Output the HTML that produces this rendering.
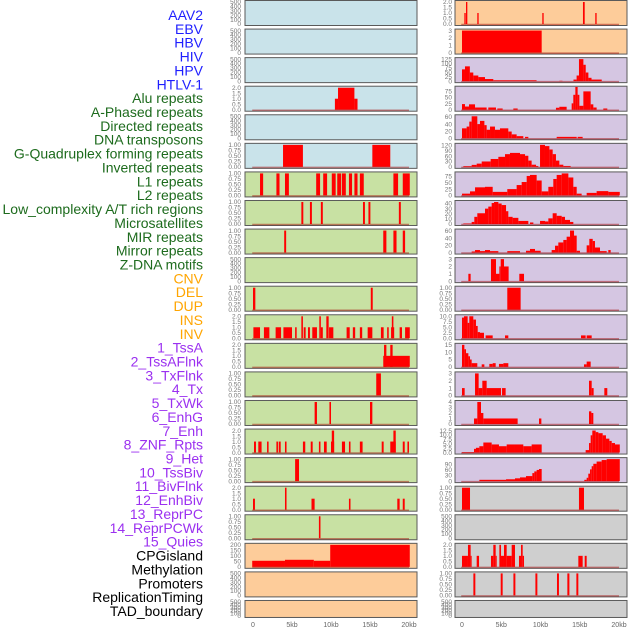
<!DOCTYPE html>
<html><head><meta charset="utf-8"><style>
html,body{margin:0;padding:0;background:#fff;}
svg{display:block;font-family:"Liberation Sans",sans-serif;}
</style></head><body>
<svg id="chart" width="630" height="630" viewBox="0 0 630 630"></svg>
<script>
const labels = ["AAV2","EBV","HBV","HIV","HPV","HTLV-1","Alu repeats","A-Phased repeats","Directed repeats","DNA transposons","G-Quadruplex forming repeats","Inverted repeats","L1 repeats","L2 repeats","Low_complexity A/T rich regions","Microsatellites","MIR repeats","Mirror repeats","Z-DNA motifs","CNV","DEL","DUP","INS","INV","1_TssA","2_TssAFlnk","3_TxFlnk","4_Tx","5_TxWk","6_EnhG","7_Enh","8_ZNF_Rpts","9_Het","10_TssBiv","11_BivFlnk","12_EnhBiv","13_ReprPC","14_ReprPCWk","15_Quies","CPGisland","Methylation","Promoters","ReplicationTiming","TAD_boundary"];
const labelGroups = [6,13,5,15,5];
const groupColors = ["#1f1fff","#1d6b1d","#ffa500","#9b30f0","#000000"];
const xTicks = [0,5,10,15,20];
const xTickLabels = ["0","5kb","10kb","15kb","20kb"];

// middle column panels: segments [startKb, endKb, value]
const m1=[],m2=[],m3=[],m5=[],m10=[],m21=[],m22=[];
const m4=[[10.5,10.9,1],[10.9,13.0,2],[13.0,13.4,1]];
const m6=[[3.85,6.4,1],[15.3,17.6,1]];
const m7=[[0.9,1.3,1],[3.0,3.4,1],[4.1,4.6,1],[8.1,8.6,1],[9.0,9.5,1],[10.1,10.6,1],[10.8,11.3,1],[11.4,11.9,1],[12.3,12.7,1],[13.0,13.4,1],[13.7,14.2,1],[18.0,18.6,1],[19.2,20.1,1]];
const m8=[[6.2,6.45,1],[7.3,7.55,1],[8.7,8.95,1],[14.1,14.35,1],[14.8,15.05,1],[18.7,18.95,1]];
const m9=[[4.0,4.25,1],[16.7,17.1,1],[18.0,18.4,1],[19.2,19.5,1]];
const m11=[[0.0,0.3,1],[15.1,15.35,1]];
const m12=[[0.05,0.9,1],[1.4,2.1,1],[2.9,3.6,1],[3.9,5.0,1],[5.4,5.6,1],[6.2,6.4,2],[6.5,6.75,1],[7.05,7.3,1],[7.6,8.2,1],[8.5,8.7,2],[8.7,8.95,1],[9.4,9.7,2],[9.75,10.3,1],[12.0,12.4,1],[12.8,13.1,1],[13.7,14.0,1],[14.7,15.3,1],[16.4,16.75,1],[17.2,17.4,1],[17.7,18.1,1],[17.8,18.0,2],[18.8,19.1,1],[19.5,20.1,1]];
const m13=[[16.7,20.1,1],[16.8,17.1,2],[17.6,17.9,2]];
const m14=[[15.8,16.4,1]];
const m15=[[7.9,8.2,1],[9.8,10.0,1],[15.0,15.3,1]];
const m16=[[0.13,0.38,1],[0.68,1.1,1],[1.8,2.0,1],[3.0,3.2,1],[3.3,3.55,1],[4.1,4.3,1],[6.4,6.7,1],[7.4,7.65,1],[8.45,8.65,1],[9.1,9.45,1],[10.0,10.4,1],[10.1,10.4,2],[11.4,11.8,1],[12.3,12.5,1],[13.7,14.05,1],[16.5,16.75,1],[17.6,18.3,1],[18.0,18.3,2],[19.2,19.45,1],[19.8,20.0,1]];
const m17=[[5.4,5.9,1]];
const m18=[[0,0.25,1],[4.1,4.3,2],[7.5,7.9,1],[12.3,12.5,1],[18.5,18.8,1],[19.2,19.45,1]];
const m19=[[8.45,8.65,1]];
const m20=[[-0.1,4.1,55],[4.1,7.8,64],[7.8,9.9,55],[9.9,20.1,200]];

// right column panels
const r1=[[0.3,0.47,1],[0.51,0.68,2],[1.95,2.12,1],[10.23,10.4,1],[15.41,15.63,2],[16.98,17.15,1]];
const r2=[[0,10.15,3]];
const r3=[[0,0.38,67],[0.38,1.0,84],[1.0,1.44,49],[1.44,2.08,32],[2.08,2.93,23],[2.93,3.99,12],[3.99,4.84,5],[4.84,9.5,5],[12.4,12.8,2],[14.2,14.6,9],[14.6,14.9,32],[14.9,15.46,125],[15.46,15.76,93],[15.76,16.1,49],[16.1,16.5,19],[16.5,17.8,9]];
const r4=[[0,0.38,23],[0.38,0.89,13],[0.89,1.66,22],[1.66,3.14,9],[3.35,4.33,9],[4.5,5.18,5],[6.54,7.09,5],[11.97,12.4,8],[12.4,13.33,12],[13.97,14.18,26],[14.18,14.44,61],[14.44,14.73,93],[14.73,14.95,61],[14.95,15.46,16],[15.46,16.39,75],[16.39,16.73,22],[16.73,17.15,9],[18.0,18.51,5]];
const r5=[[0,0.59,28],[0.59,0.93,33],[0.93,1.23,47],[1.23,1.95,62],[1.95,2.29,40],[2.29,2.85,49],[2.85,3.14,37],[3.14,3.57,24],[3.57,4.2,33],[4.2,4.84,24],[4.84,5.9,28],[5.9,6.33,19],[6.33,6.96,11],[6.96,7.81,6],[8.03,8.45,4],[12.06,14.61,4],[14.73,15.37,4]];
const r6=[[0.17,1.23,4],[1.23,1.87,11],[1.87,2.51,18],[2.51,3.65,30],[3.65,4.63,44],[4.63,5.48,56],[5.48,6.11,71],[6.11,7.39,78],[7.39,8.03,71],[8.03,8.45,62],[8.45,8.87,35],[8.87,9.43,12],[9.43,9.72,5],[9.94,10.57,123],[10.57,11.13,116],[11.13,11.55,97],[11.55,11.97,71],[11.97,12.4,35],[12.4,12.91,12],[12.91,13.84,5]];
const r7=[[0,1.02,7],[1.02,1.66,16],[1.66,2.93,32],[2.93,3.91,34],[3.91,5.77,14],[5.77,6.96,25],[6.96,7.6,41],[7.6,8.24,53],[8.24,8.66,77],[8.66,9.51,81],[9.51,10.15,59],[10.15,11.0,16],[11.0,11.63,34],[11.63,12.06,65],[12.06,12.7,81],[12.7,13.55,87],[13.55,14.18,71],[14.18,14.61,34],[14.61,15.24,7],[15.88,17.15,10],[17.15,18.64,17],[18.64,20.1,14]];
const r8=[[0.17,1.23,1],[1.23,1.57,4],[1.57,1.95,14],[1.95,2.93,21],[2.93,3.35,30],[3.35,3.78,34],[3.78,4.08,41],[4.08,4.63,43],[4.63,5.05,40],[5.05,5.61,37],[5.61,5.9,25],[5.9,6.45,14],[6.45,7.18,12],[7.18,8.45,6],[8.66,9.09,3],[9.94,10.57,6],[10.57,11.0,5],[11.0,11.55,11],[11.55,12.06,21],[12.06,12.7,16],[12.7,13.12,14],[13.12,13.76,8],[13.76,14.18,4]];
const r9=[[1.23,1.66,3],[1.66,2.29,7],[2.29,2.93,4],[2.93,3.57,7],[3.57,4.63,4],[5.77,7.39,4],[8.15,8.66,5],[8.66,9.3,10],[9.3,10.02,5],[11.42,11.85,7],[11.85,12.27,19],[12.27,12.91,28],[12.91,13.33,35],[13.33,13.76,44],[13.76,14.27,61],[14.27,14.61,47],[14.61,15.03,5],[15.88,16.22,20],[16.22,16.65,38],[16.65,16.94,32],[16.94,17.58,14],[17.58,18.43,4],[18.64,18.94,7]];
const r10=[[0.81,1.1,1],[3.69,4.33,3],[4.33,4.76,1],[4.76,4.93,2],[4.93,5.35,3],[5.35,5.94,2],[7.3,7.9,1]];
const r11=[[5.77,7.47,1]];
const r12=[[0,0.25,9.4],[0.25,0.72,10],[0.72,0.93,7],[0.93,1.44,10],[1.44,1.78,8.5],[1.78,2.0,5.6],[2.0,2.29,2.8],[2.29,2.8,2.5],[3.01,3.91,1.3],[5.48,5.9,1.3],[15.16,15.75,1.3],[15.88,16.52,1.3]];
const r13=[[0,0.3,15],[0.3,0.51,12],[0.51,0.81,9.3],[0.81,1.02,7.2],[1.02,1.23,5],[1.23,1.95,2.5],[2.51,2.85,1.7],[3.48,3.91,2],[3.91,4.29,2.5],[4.71,5.27,2],[5.27,5.9,2.5],[15.54,15.88,1.7],[15.88,16.39,3.6]];
const r14=[[0,0.34,1],[1.66,2.12,3],[2.12,2.59,1],[2.59,3.14,2],[3.14,4.97,1],[5.1,5.56,1],[16.18,16.52,2],[16.52,16.77,1],[18.13,18.51,1]];
const r15=[[1.53,1.95,1],[1.95,2.42,4],[2.42,2.72,2],[2.72,7.09,1],[9.81,10.11,1],[16.18,16.48,2.3],[16.48,16.73,2]];
const r16=[[0,1.53,0.3],[1.53,1.78,2.1],[1.78,2.21,2.7],[2.21,2.72,3.6],[2.72,3.78,5.7],[3.78,4.71,4.6],[4.71,5.69,3.6],[5.69,6.75,4.6],[6.75,7.81,4.6],[7.81,8.87,3.6],[8.87,10.15,4.6],[15.75,16.18,1.4],[16.18,16.39,5.4],[16.39,16.6,9.8],[16.6,17.03,12.5],[17.03,17.37,11.6],[17.37,17.92,11],[17.92,18.34,9.8],[18.34,18.77,7.9],[18.77,19.07,6.6],[19.07,19.49,5.4],[19.49,20.1,4.6]];
const r17=[[2.21,5.61,7],[5.61,6.75,10],[6.75,7.39,15],[7.39,8.15,20],[8.15,8.96,27],[8.96,9.21,43],[9.21,9.51,52],[9.51,9.81,60],[9.81,10.15,65],[15.58,15.88,7],[15.88,16.09,18],[16.09,16.31,40],[16.31,16.52,63],[16.52,16.73,80],[16.73,17.15,93],[17.15,17.79,105],[17.79,18.43,113],[18.43,20.1,118]];
const r18=[[0,1.02,1],[14.9,15.54,1]];
const r19=[];
const r20=[[0,0.76,1],[0.76,1.1,2],[1.1,1.15,1],[1.87,2.17,1],[3.69,3.99,1],[3.99,4.29,2],[4.29,4.42,1],[4.76,4.97,2],[4.97,5.35,1],[5.35,5.69,2],[5.69,6.33,1],[6.33,6.75,2],[7.26,7.52,1],[7.52,7.73,2],[7.73,7.9,1],[14.82,15.37,1],[15.63,15.88,1]];
const r21=[[1.45,1.7,1],[4.93,5.18,1],[6.55,6.8,1],[9.35,9.6,1],[12.1,12.35,1],[13.42,13.68,1],[14.57,14.82,1]];
const r22=[];

// y tick label sets
const tEmpty=["0","100","200","300","400","500"];
const t1=["0.00","0.25","0.50","0.75","1.00"];
const t2=["0.0","0.5","1.0","1.5","2.0"];
const t3=["0","1","2","3"];
const tCpg=["0","50","100","150","200"];
const tR3=["0","25","50","75","100","125"];
const tR4=["0","25","50","75"];
const tR5=["0","20","40","60"];
const tR6=["0","30","60","90","120"];
const tR8=["0","10","20","30","40"];
const tR12=["0.0","2.5","5.0","7.5","10.0"];
const tR13=["0","5","10","15"];
const tR15=["0","1","2","3","4"];
const tR16=["0.0","2.5","5.0","7.5","10.0","12.5"];
const tR17=["0","30","60","90"];

const midData=[m1,m2,m3,m4,m5,m6,m7,m8,m9,m10,m11,m12,m13,m14,m15,m16,m17,m18,m19,m20,m21,m22];
const midMax=[500,500,500,2,500,1,1,1,1,500,1,2,2,1,1,2,1,2,1,200,500,500];
const midTicks=[tEmpty,tEmpty,tEmpty,t2,tEmpty,t1,t1,t1,t1,tEmpty,t1,t2,t2,t1,t1,t2,t1,t2,t1,tCpg,tEmpty,tEmpty];
const midBg=["b","b","b","b","b","b","g","g","g","g","g","g","g","g","g","g","g","g","g","o","o","o"];
const rightData=[r1,r2,r3,r4,r5,r6,r7,r8,r9,r10,r11,r12,r13,r14,r15,r16,r17,r18,r19,r20,r21,r22];
const rightMax=[2,3,125,90,62,123,87,43,61,3,1,10,15,3,4,12.5,118,1,500,2,1,500];
const rightTicks=[t2,t3,tR3,tR4,tR5,tR6,tR4,tR8,tR5,t3,t1,tR12,tR13,t3,tR15,tR16,tR17,t1,tEmpty,t2,t1,tEmpty];
const rightBg=["o","o","p","p","p","p","p","p","p","p","p","p","p","p","p","p","p","y","y","y","y","y"];

const bgColors={b:"#c9e3ea",g:"#c8e1a3",o:"#fdcc9a",p:"#d5c6e2",y:"#cfcfcf"};
const NS="http://www.w3.org/2000/svg";
const svg=document.getElementById('chart');
function mk(tag,attrs,parent){const e=document.createElementNS(NS,tag);for(const k in attrs)e.setAttribute(k,attrs[k]);(parent||svg).appendChild(e);return e;}

// labels
let li=0;
labelGroups.forEach((n,gi)=>{for(let k=0;k<n;k++){
  const t=mk('text',{x:203,y:(20+li*13.86).toFixed(1),'text-anchor':'end','font-size':'14',fill:groupColors[gi]});
  t.textContent=labels[li];
  
  
  li++;}});

const cols=[{name:'middle',px0:245,px1:417,x0:253,kb:7.8,tickX:241,data:midData,max:midMax,ticks:midTicks,bg:midBg},
            {name:'right',px0:455,px1:627,x0:462,kb:7.85,tickX:452,data:rightData,max:rightMax,ticks:rightTicks,bg:rightBg}];
cols.forEach(c=>{
  const xs=kb=>c.x0+kb*c.kb;
  for(let i=0;i<22;i++){
    const top=0.5+i*28.57, h=(i===21?17:25), bot=top+h;
    const g=mk('g',{});
    
    
    const r=mk('rect',{x:c.px0,y:top,width:c.px1-c.px0,height:h,fill:bgColors[c.bg[i]],stroke:'#5a5a5a','stroke-width':1},g);
    
    
    const y0=bot-1.5, yh=h-3, mx=c.max[i];
    const ys=v=>y0-v/mx*yh;
    // ticks
    const tk=c.ticks[i];
    tk.forEach((lab,k)=>{
      const v=parseFloat(lab);
      const t=mk('text',{x:c.tickX,y:(ys(v)+2.2).toFixed(1),'text-anchor':'end','font-size':'6.5',fill:'#777'},g);
      t.textContent=lab;
      
      
    });
    // bars
    c.data[i].forEach(s=>{
      const x1=xs(s[0]),x2=xs(s[1]);
      const b=mk('rect',{x:x1.toFixed(2),y:ys(s[2]).toFixed(2),width:Math.max(1,x2-x1).toFixed(2),height:(y0-ys(s[2])).toFixed(2),fill:'#ff0000'},g);
      
      
    });
    if(mx!==500){
      const l=mk('line',{x1:xs(-0.1),x2:xs(20),y1:y0+0.5,y2:y0+0.5,stroke:'rgba(160,0,0,0.45)','stroke-width':1.5},g);
      
      
    }
  }
  xTicks.forEach((v,k)=>{
    const t=mk('text',{x:xs(v),y:627,'text-anchor':'middle','font-size':'7',fill:'#666'});
    t.textContent=xTickLabels[k];
    
    
  });
});
</script>
</body></html>
